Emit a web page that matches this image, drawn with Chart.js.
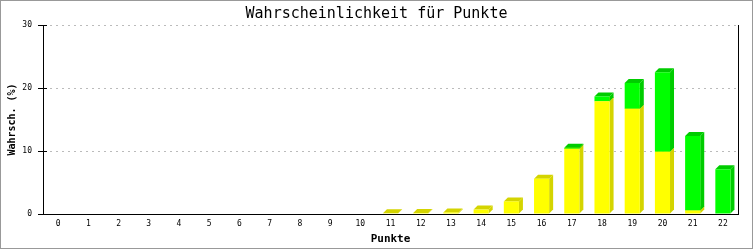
<!DOCTYPE html>
<html><head><meta charset="utf-8">
<script src="https://cdn.jsdelivr.net/npm/chart.js@4"></script>
<style>
html,body{margin:0;padding:0;background:#fff;}
#wrap{position:relative;width:753px;height:250px;}
#frame{position:absolute;left:0;top:0;width:753px;height:249px;box-sizing:border-box;border:1px solid #999;pointer-events:none;}
canvas{display:block;}
</style></head><body>
<div id="wrap"><canvas id="c" width="753" height="250"></canvas><div id="frame"></div></div>
<script>
const categories = ['0','1','2','3','4','5','6','7','8','9','10','11','12','13','14','15','16','17','18','19','20','21','22'];
const yellowValues = [null,null,null,null,null,null,null,null,null,null,null,0.1,0.15,0.25,0.7,2.0,5.6,10.35,17.9,16.7,9.9,0.55,null];
const greenValues  = [null,null,null,null,null,null,null,null,null,null,null,null,null,null,null,null,null,0.15,0.75,4.1,12.6,11.85,7.1];
const yTicks = [0,10,20,30];

const MONO = "'DejaVu Sans Mono', 'Liberation Mono', monospace";

const threeD = {
  id: 'threeD',
  beforeDatasetsDraw(chart) {
    const ctx = chart.ctx, d = 4;
    chart.data.datasets.forEach((ds, i) => {
      const meta = chart.getDatasetMeta(i);
      meta.data.forEach((el, j) => {
        const v = ds.data[j];
        if (v == null || v === 0) return;
        const {x, y, base, width} = el.getProps(['x', 'y', 'base', 'width'], true);
        const l = x - width / 2, r = x + width / 2;
        ctx.save();
        ctx.fillStyle = ds.sideColor;
        ctx.beginPath();
        ctx.moveTo(r, y); ctx.lineTo(r + d, y - d); ctx.lineTo(r + d, base - d); ctx.lineTo(r, base);
        ctx.closePath(); ctx.fill();
        ctx.beginPath();
        ctx.moveTo(l, y); ctx.lineTo(l + d, y - d); ctx.lineTo(r + d, y - d); ctx.lineTo(r, y);
        ctx.closePath(); ctx.fill();
        ctx.restore();
      });
    });
  },
  afterDraw(chart) {
    const s = chart.scales.y, ctx = chart.ctx;
    ctx.save();
    ctx.strokeStyle = '#000';
    ctx.lineWidth = 1;
    s.ticks.forEach((t, i) => {
      const p = s.getPixelForTick(i);
      const py = Math.round(p - 0.5) + 0.5;
      ctx.beginPath();
      ctx.moveTo(s.right - 5, py);
      ctx.lineTo(s.right + 4, py);
      ctx.stroke();
    });
    ctx.restore();
  }
};

new Chart(document.getElementById('c'), {
  type: 'bar',
  data: {
    labels: categories,
    datasets: [
      {label: 'A', data: yellowValues, backgroundColor: '#ffff00', sideColor: '#d4d400', borderWidth: 0, barPercentage: 0.5, categoryPercentage: 1, stack: 's'},
      {label: 'B', data: greenValues, backgroundColor: '#00ff00', sideColor: '#00cc00', borderWidth: 0, barPercentage: 0.5, categoryPercentage: 1, stack: 's'}
    ]
  },
  options: {
    responsive: false,
    animation: false,
    devicePixelRatio: 1,
    layout: {padding: 0},
    plugins: {
      legend: {display: false},
      tooltip: {enabled: false},
      title: {
        display: true,
        text: 'Wahrscheinlichkeit für Punkte',
        color: '#000',
        font: {family: MONO, size: 15, weight: 'normal', lineHeight: 1.2},
        padding: {top: 5, bottom: 2}
      }
    },
    scales: {
      x: {
        stacked: true,
        grid: {display: false, drawTicks: false},
        border: {display: true, color: '#000', width: 1},
        ticks: {color: '#000', font: {family: MONO, size: 8}, padding: 5, maxRotation: 0, autoSkip: false},
        title: {display: true, text: 'Punkte', color: '#000', font: {family: MONO, size: 11, weight: 'bold'}, padding: {top: 0, bottom: 4}},
        afterFit(s) { s.height = 36; }
      },
      y: {
        stacked: true,
        min: 0, max: 30,
        afterBuildTicks(s) { s.ticks = yTicks.map(v => ({value: v})); },
        ticks: {color: '#000', font: {family: MONO, size: 8}, padding: 11},
        grid: {
          color: c => (c.tick && c.tick.value === 0) ? 'rgba(0,0,0,0)' : '#bbbbbb',
          drawTicks: false,
          lineWidth: 1
        },
        border: {display: true, color: '#000', width: 1, dash: [2, 4]},
        title: {display: true, text: 'Wahrsch. (%)', color: '#000', font: {family: MONO, size: 10, weight: 'bold'}, padding: {top: 6, bottom: 0}},
        afterFit(s) { s.width = 43; }
      },
      y2: {
        position: 'right',
        min: 0, max: 30,
        ticks: {display: false},
        grid: {display: false, drawTicks: false},
        border: {display: true, color: '#000', width: 1},
        afterFit(s) { s.width = 15; }
      }
    }
  },
  plugins: [threeD]
});
</script>
</body></html>
